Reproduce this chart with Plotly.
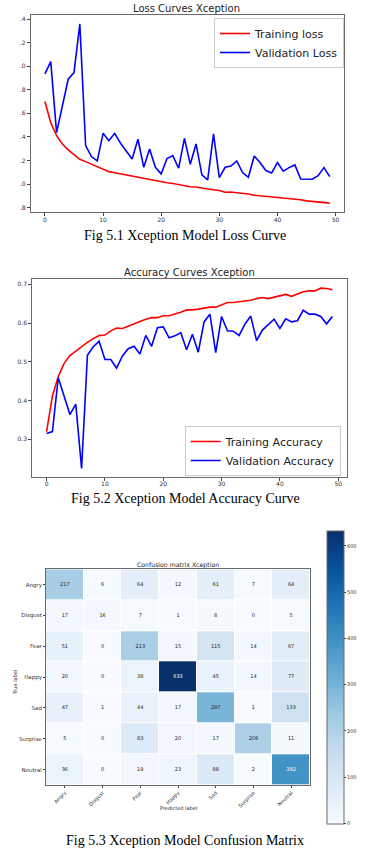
import plotly.graph_objects as go

W, H = 380, 856

epochs = list(range(50))

train_loss = [1.70, 1.52, 1.41, 1.34, 1.29, 1.25, 1.21, 1.19, 1.17, 1.145,
              1.13, 1.105, 1.095, 1.085, 1.075, 1.065, 1.055, 1.045, 1.035, 1.03,
              1.015, 1.01, 1.005, 0.995, 0.985, 0.977, 0.975, 0.965, 0.957, 0.952,
              0.945, 0.93, 0.932, 0.926, 0.922, 0.915, 0.905, 0.90, 0.898, 0.893,
              0.886, 0.88, 0.879, 0.876, 0.866, 0.857, 0.853, 0.849, 0.846, 0.838]
val_loss = [1.934, 2.038, 1.436, 1.665, 1.889, 1.945, 2.358, 1.326, 1.233, 1.196,
            1.430, 1.368, 1.430, 1.346, 1.283, 1.213, 1.380, 1.142, 1.297, 1.142,
            1.086, 1.216, 1.241, 1.134, 1.388, 1.167, 1.340, 1.077, 1.035, 1.425,
            1.054, 1.142, 1.153, 1.196, 1.097, 1.057, 1.238, 1.182, 1.114, 1.094,
            1.182, 1.108, 1.139, 1.162, 1.043, 1.043, 1.040, 1.071, 1.139, 1.063]

train_acc = [0.320, 0.412, 0.462, 0.496, 0.516, 0.528, 0.539, 0.550, 0.560, 0.568,
             0.569, 0.580, 0.587, 0.586, 0.592, 0.599, 0.604, 0.610, 0.614, 0.614,
             0.619, 0.619, 0.623, 0.628, 0.634, 0.634, 0.636, 0.639, 0.641, 0.641,
             0.648, 0.653, 0.653, 0.655, 0.657, 0.659, 0.663, 0.666, 0.663, 0.667,
             0.672, 0.674, 0.669, 0.675, 0.681, 0.683, 0.683, 0.690, 0.689, 0.686]
val_acc = [0.315, 0.320, 0.459, 0.410, 0.364, 0.391, 0.225, 0.517, 0.539, 0.553,
           0.506, 0.506, 0.484, 0.515, 0.534, 0.540, 0.520, 0.568, 0.540, 0.588,
           0.590, 0.562, 0.567, 0.575, 0.531, 0.571, 0.525, 0.603, 0.623, 0.524,
           0.617, 0.580, 0.579, 0.568, 0.597, 0.618, 0.555, 0.582, 0.595, 0.610,
           0.586, 0.611, 0.603, 0.606, 0.633, 0.623, 0.623, 0.617, 0.598, 0.617]

loss_ticks = [2.4, 2.2, 2.0, 1.8, 1.6, 1.4, 1.2, 1.0, 0.8]
loss_ticktext = [".4", ".2", ".0", ".8", ".6", ".4", ".2", ".0", ".8"]
acc_ticks = [0.3, 0.4, 0.5, 0.6, 0.7]
epoch_ticks = [0, 10, 20, 30, 40, 50]

classes = ["Angry", "Disgust", "Fear", "Happy", "Sad", "Surprise", "Neutral"]
cm = [
    [217, 6, 64, 12, 61, 7, 64],
    [17, 16, 7, 1, 8, 0, 5],
    [51, 0, 213, 15, 115, 14, 67],
    [20, 0, 38, 633, 45, 14, 77],
    [47, 1, 44, 17, 297, 1, 133],
    [5, 0, 83, 20, 17, 208, 11],
    [36, 0, 19, 23, 88, 2, 392],
]
cbar_ticks = [0, 100, 200, 300, 400, 500, 600]

blues = [[0.0, "#f7fbff"], [0.125, "#deebf7"], [0.25, "#c6dbef"], [0.375, "#9ecae1"],
         [0.5, "#6baed6"], [0.625, "#4292c6"], [0.75, "#2171b5"], [0.875, "#08519c"],
         [1.0, "#08306b"]]


def px_x(x):
    return x / W


def px_y(y):
    return 1 - y / H


MPL = "DejaVu Sans"
SERIF = "Liberation Serif"
SPINE = "#6a6a6a"

fig = go.Figure()

# Loss curves
fig.add_trace(go.Scatter(x=epochs, y=train_loss, mode="lines", name="Training loss",
                         line=dict(color="#ff0000", width=1.6), xaxis="x", yaxis="y",
                         legend="legend"))
fig.add_trace(go.Scatter(x=epochs, y=val_loss, mode="lines", name="Validation Loss",
                         line=dict(color="#0000ff", width=1.6), xaxis="x", yaxis="y",
                         legend="legend"))

# Accuracy curves
fig.add_trace(go.Scatter(x=epochs, y=train_acc, mode="lines", name="Training Accuracy",
                         line=dict(color="#ff0000", width=1.6), xaxis="x2", yaxis="y2",
                         legend="legend2"))
fig.add_trace(go.Scatter(x=epochs, y=val_acc, mode="lines", name="Validation Accuracy",
                         line=dict(color="#0000ff", width=1.6), xaxis="x2", yaxis="y2",
                         legend="legend2"))

# Confusion matrix
zmax = max(max(r) for r in cm)
fig.add_trace(go.Heatmap(z=cm, x=classes, y=classes, colorscale=blues, zmin=0, zmax=zmax,
                         xgap=1, ygap=1, xaxis="x3", yaxis="y3", showlegend=False,
                         colorbar=dict(x=px_x(326.7), xanchor="left", xpad=0,
                                       y=px_y(677), yanchor="middle", ypad=0,
                                       len=292.6 / H, lenmode="fraction",
                                       thickness=17, thicknessmode="pixels",
                                       outlinecolor=SPINE, outlinewidth=1,
                                       tickvals=cbar_ticks, ticks="outside", ticklen=2,
                                       tickcolor="#444",
                                       tickfont=dict(family=MPL, size=5, color="#333"))))

thresh = zmax / 2
dx, dy, dt, lx, ly, lt = [], [], [], [], [], []
for i, row in enumerate(cm):
    for j, v in enumerate(row):
        if v > thresh:
            lx.append(classes[j]); ly.append(classes[i]); lt.append(str(v))
        else:
            dx.append(classes[j]); dy.append(classes[i]); dt.append(str(v))
fig.add_trace(go.Scatter(x=dx, y=dy, text=dt, mode="text", showlegend=False,
                         textfont=dict(family=MPL, size=5, color="#222"),
                         xaxis="x3", yaxis="y3", hoverinfo="skip"))
fig.add_trace(go.Scatter(x=lx, y=ly, text=lt, mode="text", showlegend=False,
                         textfont=dict(family=MPL, size=5, color="#ffffff"),
                         xaxis="x3", yaxis="y3", hoverinfo="skip"))

axis_common = dict(showline=True, mirror=True, linecolor=SPINE, linewidth=1,
                   showgrid=False, zeroline=False, ticks="outside", ticklen=3,
                   tickcolor="#444", tickwidth=1,
                   tickfont=dict(family=MPL, size=6, color="#333"))

layout = dict(
    width=W, height=H, margin=dict(l=0, r=0, t=0, b=0),
    paper_bgcolor="white", plot_bgcolor="white",
    xaxis=dict(domain=[px_x(30.7), px_x(344)], range=[-2.45, 51.45],
               tickvals=epoch_ticks, anchor="y", ticklabelstandoff=-2, **axis_common),
    yaxis=dict(domain=[px_y(212.3), px_y(15)], range=[0.76, 2.434],
               tickvals=loss_ticks, ticktext=loss_ticktext, anchor="x", **axis_common),
    xaxis2=dict(domain=[px_x(32.3), px_x(346.7)], range=[-2.45, 51.45],
                tickvals=epoch_ticks, anchor="y2", ticklabelstandoff=-2, **axis_common),
    yaxis2=dict(domain=[px_y(476.7), px_y(279.3)], range=[0.2037, 0.7129],
                tickvals=acc_ticks, tickformat=".1f", anchor="x2", **axis_common),
    xaxis3=dict(domain=[px_x(46), px_x(310)], anchor="y3", tickangle=-45,
                showline=True, mirror=True, linecolor=SPINE, linewidth=1,
                showgrid=False, zeroline=False, ticks="outside", ticklen=2,
                tickcolor="#444", tickfont=dict(family=MPL, size=5, color="#333")),
    yaxis3=dict(domain=[px_y(785), px_y(569.3)], anchor="x3", autorange="reversed",
                showline=True, mirror=True, linecolor=SPINE, linewidth=1,
                showgrid=False, zeroline=False, ticks="outside", ticklen=2,
                tickcolor="#444", tickfont=dict(family=MPL, size=5.5, color="#333")),
    legend=dict(x=px_x(214), y=px_y(18), xanchor="left", yanchor="top",
                bgcolor="white", bordercolor="#cccccc", borderwidth=1,
                font=dict(family=MPL, size=11, color="#222")),
    legend2=dict(x=px_x(340.7), y=px_y(476), xanchor="right", yanchor="bottom",
                 bgcolor="white", bordercolor="#cccccc", borderwidth=1,
                 font=dict(family=MPL, size=11, color="#222")),
    annotations=[
        dict(text="Loss Curves Xception", x=px_x(186.7), y=px_y(8), xref="paper",
             yref="paper", showarrow=False, xanchor="center", yanchor="middle",
             font=dict(family=MPL, size=10, color="#222")),
        dict(text="Fig 5.1 Xception Model Loss Curve", x=px_x(185), y=px_y(236),
             xref="paper", yref="paper", showarrow=False, xanchor="center",
             yanchor="middle", font=dict(family=SERIF, size=14, color="#000")),
        dict(text="Accuracy Curves Xception", x=px_x(189.3), y=px_y(272.7), xref="paper",
             yref="paper", showarrow=False, xanchor="center", yanchor="middle",
             font=dict(family=MPL, size=10, color="#222")),
        dict(text="Fig 5.2 Xception Model Accuracy Curve", x=px_x(185), y=px_y(498),
             xref="paper", yref="paper", showarrow=False, xanchor="center",
             yanchor="middle", font=dict(family=SERIF, size=14, color="#000")),
        dict(text="Confusion matrix Xception", x=px_x(177.7), y=px_y(565), xref="paper",
             yref="paper", showarrow=False, xanchor="center", yanchor="middle",
             font=dict(family=MPL, size=6.2, color="#222")),
        dict(text="Predicted label", x=px_x(178), y=px_y(807.5), xref="paper",
             yref="paper", showarrow=False, xanchor="center", yanchor="middle",
             font=dict(family=MPL, size=5, color="#222")),
        dict(text="True label", x=px_x(15), y=px_y(683), xref="paper", yref="paper",
             showarrow=False, xanchor="center", yanchor="middle", textangle=-90,
             font=dict(family=MPL, size=5, color="#222")),
        dict(text="Fig 5.3 Xception Model Confusion Matrix", x=px_x(185), y=px_y(840),
             xref="paper", yref="paper", showarrow=False, xanchor="center",
             yanchor="middle", font=dict(family=SERIF, size=14, color="#000")),
    ],
)
fig.update_layout(**layout)
fig.write_html("out.html", config={"displayModeBar": False},
               post_script="document.body.style.margin='0';")
